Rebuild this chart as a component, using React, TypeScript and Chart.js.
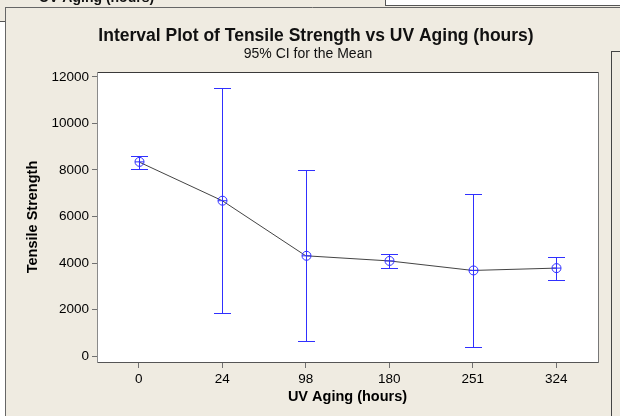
import React, { useEffect, useRef } from 'react';
import { Chart, registerables } from 'chart.js';

Chart.register(...registerables);

const categories = ['0', '24', '98', '180', '251', '324'];
const means = [8350, 6680, 4310, 4090, 3680, 3780];
const upper = [8610, 11530, 7990, 4390, 6970, 4270];
const lower = [8060, 1840, 650, 3790, 390, 3270];
const yTicks = [0, 2000, 4000, 6000, 8000, 10000, 12000];

const FONT = '"Liberation Sans", Arial, sans-serif';
const BEIGE = '#EFEBE1';
const BLUE = 'rgb(48,48,255)';

const chromePlugin = {
  id: 'chrome',
  beforeDraw(chart: any) {
    const ctx = chart.ctx;
    const W = chart.width;
    const H = chart.height;
    const a = chart.chartArea;
    ctx.save();
    ctx.fillStyle = BEIGE;
    ctx.fillRect(0, 0, W, H);
    ctx.fillStyle = '#ffffff';
    ctx.fillRect(385, 0, W - 385, 6);
    ctx.fillRect(0, 21, 5, H - 21);
    ctx.strokeStyle = '#555';
    ctx.lineWidth = 1;
    ctx.beginPath();
    ctx.moveTo(385.5, 0); ctx.lineTo(385.5, 6);
    ctx.moveTo(385, 5.5); ctx.lineTo(W, 5.5);
    ctx.moveTo(0, 21.5); ctx.lineTo(5, 21.5);
    ctx.stroke();
    ctx.fillStyle = '#111';
    ctx.font = 'bold 14px ' + FONT;
    ctx.textAlign = 'left';
    ctx.textBaseline = 'alphabetic';
    ctx.fillText('UV Aging (hours)', 39, 2);
    ctx.strokeStyle = '#666';
    ctx.beginPath();
    ctx.moveTo(5.5, 7); ctx.lineTo(5.5, H);
    ctx.moveTo(5, 7.5); ctx.lineTo(W, 7.5);
    ctx.stroke();
    ctx.strokeStyle = '#444';
    ctx.beginPath();
    ctx.moveTo(611.5, 51); ctx.lineTo(611.5, H);
    ctx.moveTo(611, 51.5); ctx.lineTo(W, 51.5);
    ctx.stroke();
    ctx.fillStyle = '#ffffff';
    ctx.fillRect(a.left, a.top, a.right - a.left, a.bottom - a.top);
    ctx.fillStyle = '#111';
    ctx.textAlign = 'center';
    ctx.textBaseline = 'middle';
    ctx.font = 'bold 17.5px ' + FONT;
    ctx.fillText('Interval Plot of Tensile Strength vs UV Aging (hours)', 316, 36);
    ctx.font = '14px ' + FONT;
    ctx.fillText('95% CI for the Mean', 308, 54);
    ctx.restore();
  },
  afterDatasetsDraw(chart: any) {
    const ctx = chart.ctx;
    const xs = chart.scales.x;
    const ys = chart.scales.y;
    ctx.save();
    ctx.lineWidth = 1;
    for (let i = 0; i < categories.length; i++) {
      const x = Math.round(xs.getPixelForValue(i)) + 0.5;
      const yu = Math.round(ys.getPixelForValue(upper[i])) + 0.5;
      const yl = Math.round(ys.getPixelForValue(lower[i])) + 0.5;
      const ym = ys.getPixelForValue(means[i]);
      ctx.strokeStyle = BLUE;
      ctx.beginPath();
      ctx.moveTo(x, yu); ctx.lineTo(x, yl);
      ctx.moveTo(x - 8.5, yu); ctx.lineTo(x + 8.5, yu);
      ctx.moveTo(x - 8.5, yl); ctx.lineTo(x + 8.5, yl);
      ctx.stroke();
      ctx.beginPath();
      ctx.arc(x, ym, 4.5, 0, Math.PI * 2);
      ctx.stroke();
      ctx.beginPath();
      ctx.moveTo(x - 4.5, ym); ctx.lineTo(x + 4.5, ym);
      ctx.stroke();
    }
    ctx.restore();
  },
  afterDraw(chart: any) {
    const ctx = chart.ctx;
    const a = chart.chartArea;
    ctx.save();
    ctx.lineWidth = 1;
    ctx.strokeStyle = '#3a3a3a';
    ctx.beginPath();
    ctx.moveTo(a.left, a.top + 0.5); ctx.lineTo(a.right + 1, a.top + 0.5);
    ctx.stroke();
    ctx.strokeStyle = '#555';
    ctx.beginPath();
    ctx.moveTo(a.left, a.bottom + 0.5); ctx.lineTo(a.right + 1, a.bottom + 0.5);
    ctx.stroke();
    ctx.strokeStyle = '#8a8a8a';
    ctx.beginPath();
    ctx.moveTo(a.left + 0.5, a.top); ctx.lineTo(a.left + 0.5, a.bottom + 1);
    ctx.stroke();
    ctx.strokeStyle = '#777';
    ctx.beginPath();
    ctx.moveTo(a.right + 0.5, a.top); ctx.lineTo(a.right + 0.5, a.bottom + 1);
    ctx.stroke();
    ctx.restore();
  },
};

export default function App() {
  const ref = useRef<HTMLCanvasElement>(null);
  useEffect(() => {
    if (!ref.current) return;
    const chart = new Chart(ref.current, {
      type: 'line',
      data: {
        labels: categories,
        datasets: [
          {
            data: means,
            borderColor: '#444',
            borderWidth: 1,
            pointRadius: 0,
            tension: 0,
            fill: false,
          },
        ],
      },
      options: {
        animation: false,
        responsive: false,
        devicePixelRatio: 1,
        layout: { padding: { left: 0, top: 72, right: 22, bottom: 0 } },
        plugins: { legend: { display: false }, tooltip: { enabled: false }, title: { display: false } },
        scales: {
          x: {
            type: 'category',
            offset: true,
            border: { display: false },
            grid: { display: true, drawOnChartArea: false, drawTicks: true, tickLength: 6, tickColor: '#707070', offset: false },
            ticks: { color: '#000', font: { family: FONT, size: 13.5 }, padding: 3, maxRotation: 0, autoSkip: false },
            title: { display: true, text: 'UV Aging (hours)', color: '#000', font: { family: FONT, size: 14.5, weight: 'bold' }, padding: { top: 0, bottom: 10 } },
            afterFit: (s: any) => { s.height = 54; },
          },
          y: {
            min: -258,
            max: 12215,
            border: { display: false },
            afterBuildTicks: (s: any) => { s.ticks = yTicks.map((v) => ({ value: v })); },
            grid: { display: true, drawOnChartArea: false, drawTicks: true, tickLength: 5, tickColor: '#707070' },
            ticks: { color: '#000', font: { family: FONT, size: 13.5 }, padding: 3, callback: (v: any) => String(v) },
            title: { display: true, text: 'Tensile Strength', color: '#000', font: { family: FONT, size: 14.5, weight: 'bold' }, padding: { top: 24, bottom: 0 } },
            afterFit: (s: any) => { s.width = 97; },
          },
        },
      },
      plugins: [chromePlugin],
    });
    return () => chart.destroy();
  }, []);
  return (
    <div style={{ position: 'fixed', left: 0, top: 0, width: 620, height: 416 }}>
      <canvas ref={ref} width={620} height={416} style={{ width: 620, height: 416, display: 'block' }} />
    </div>
  );
}
